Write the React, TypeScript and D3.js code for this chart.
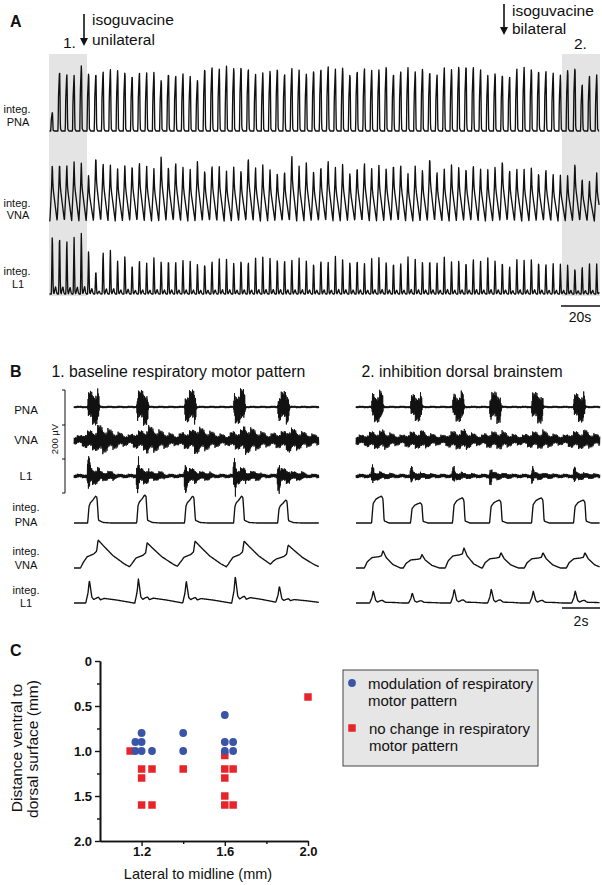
import { useEffect, useRef } from "react";
import * as d3 from "d3";

const W = 602;
const H = 885;
const FONT = "'Liberation Sans', Arial, Helvetica, sans-serif";
const INK = "#111";
const SHADE = "#e4e4e4";

// ---------- Panel A: peak height of every respiratory burst (a.u.) ----------
const A_PNA = [
  19, 61, 58, 56, 66, 59, 59, 61, 62, 61, 60, 57, 60, 59, 59, 52, 59, 57, 58, 55,
  52, 64, 66, 63, 65, 64, 66, 64, 58, 58, 61, 64, 59, 64,
  61, 58, 62, 64, 66, 62, 64, 58, 62, 64, 61, 62, 66, 59, 61, 64, 60, 64, 61, 58,
  64, 62, 66, 67, 66, 62, 56, 59, 58, 56, 63, 64, 63, 62, 62, 59, 56, 62, 65, 48,
  56, 56,
];
const A_VNA = [
  58, 60, 58, 60, 59, 48, 67, 60, 57, 53, 58, 58, 61, 56, 53, 67, 57, 61, 55, 52,
  62, 53, 58, 56, 50, 56, 53, 66, 55, 56, 53, 50, 52, 67,
  55, 60, 52, 57, 62, 54, 58, 50, 56, 60, 53, 57, 55, 59,
  58, 48, 56, 53, 66, 51, 53, 57, 56, 55, 58, 53, 52, 56, 63, 53, 53, 52, 55, 50,
  54, 48, 46, 47, 60, 44, 41, 48,
];
const A_L1 = [
  63, 63, 57, 58, 63, 47, 25, 45, 45, 34, 41, 32, 36, 32, 37, 35, 37, 35, 35, 33,
  32, 33, 36, 37, 35, 33, 37, 35, 38, 37, 38, 38, 37, 36,
  36, 35, 33, 37, 34, 38, 36, 35, 37, 33, 36, 38, 35, 34, 33, 38, 36, 35, 37, 34,
  38, 33, 36, 35, 38, 34, 37, 36, 35, 30, 36, 34, 37, 35, 33, 32, 30, 31, 28, 30,
  32, 30,
];

// burst templates for panel A (offset in px from burst peak, fraction of peak)
const A_PNA_SHAPE = [[-1.5, 0], [-1.1, 0.55], [0, 1], [0.25, 0.9], [0.8, 0.04], [2, 0]];
const A_VNA_SHAPE = [[-2.4, 0], [-1.4, 0.35], [-0.7, 0.6], [0, 1], [0.6, 0.62], [1.2, 0.5], [4.85, 0]];
const A_L1_SHAPE = [[-0.9, 0], [0, 1], [0.9, 0.05], [1.6, 0], [2.4, 0.06], [3.3, 0.12], [4.2, 0.03], [5, 0]];

// ---------- Panel B ----------
const B1_ONSET = [0.74, 3.32, 5.84, 8.42, 10.74]; // s
const B2_ONSET = [0.84, 2.89, 5.1, 7.05, 9.26, 11.47];
// raw nerve half amplitude (µV)
const B1_PNA_UV = [90, 90, 85, 90, 80];
const B2_PNA_UV = [80, 70, 75, 80, 80, 75];
const B1_VNA_UV = [80, 76, 74, 76, 66];
const B2_VNA_UV = [55, 52, 58, 52, 52, 55];
const B1_L1_UV = [95, 85, 80, 90, 80];
const B2_L1_UV = [48, 42, 40, 40, 38, 38];
// integrated peaks (a.u.)
const B1_IPNA = [96, 100, 96, 96, 82];
const B2_IPNA = [96, 72, 90, 82, 90, 82];
const B1_IVNA = [100, 90, 96, 96, 82];
const B2_IVNA = [62, 48, 72, 55, 55, 55];
const B1_IL1 = [82, 86, 79, 96, 61];
const B2_IL1 = [43, 36, 50, 50, 43, 43];

// templates (s from onset, fraction)
const B1_PNA_SHAPE = [[-0.02, 0], [0.05, 0.62], [0.12, 0.75], [0.25, 0.85], [0.4, 1], [0.47, 0.95], [0.55, 0.1], [0.8, 0.02], [1.2, 0]];
const B2_PNA_SHAPE = [[-0.02, 0], [0.06, 0.72], [0.2, 0.88], [0.35, 0.95], [0.5, 1], [0.58, 0.9], [0.64, 0.08], [0.9, 0]];
const B1_VNA_SHAPE = [[-0.4, 0], [-0.25, 0.2], [-0.05, 0.4], [0.3, 0.5], [0.45, 0.6], [0.53, 1], [0.8, 0.8], [1.3, 0.45], [1.9, 0.15], [2.3, 0]];
const B2_VNA_SHAPE = [[-0.4, 0], [-0.25, 0.35], [0, 0.6], [0.35, 0.65], [0.5, 0.7], [0.58, 1], [0.75, 0.6], [1.1, 0.2], [1.5, 0]];
const B1_L1_SHAPE = [[-0.12, 0], [0, 0.45], [0.07, 1], [0.2, 0.25], [0.3, 0.15], [0.45, 0.22], [0.55, 0.25], [0.65, 0.14], [0.85, 0.2], [1.5, 0.13], [2.2, 0.03], [2.4, 0]];
const B2_L1_SHAPE = [[-0.12, 0], [0, 0.45], [0.07, 1], [0.2, 0.2], [0.3, 0.08], [0.45, 0.2], [0.55, 0.22], [0.7, 0.06], [1.2, 0.04], [1.6, 0]];
const PNA_RAW_SHAPE = [[-0.03, 0], [0.02, 0.8], [0.25, 0.9], [0.45, 1], [0.55, 0.9], [0.6, 0.1], [0.65, 0]];
const B1_L1_RAW_SHAPE = [[-0.06, 0], [0, 1], [0.08, 1], [0.14, 0.35], [0.6, 0.35], [0.65, 0.15], [1.3, 0.15], [1.5, 0]];
const B2_L1_RAW_SHAPE = [[-0.05, 0], [0, 1], [0.07, 1], [0.12, 0.25], [0.5, 0.25], [0.55, 0.1], [1, 0.1], [1.2, 0]];

// texture for raw recordings
const GRAIN = [1, 0.55, 0.9, 0.45, 1.15, 0.7, 0.85, 0.5, 1.05, 0.65, 0.8, 1.2, 0.5, 0.9, 0.7, 1.1, 0.6];

// ---------- Panel C ----------
const MOD_X = [1.2, 1.17, 1.2, 1.17, 1.2, 1.25, 1.4, 1.4, 1.6, 1.6, 1.64, 1.6, 1.64];
const MOD_Y = [0.8, 0.9, 0.9, 1.0, 1.0, 1.0, 0.8, 1.0, 0.6, 0.9, 0.9, 1.0, 1.0];
const NOCH_X = [1.145, 1.2, 1.25, 1.2, 1.2, 1.25, 1.4, 1.6, 1.6, 1.64, 1.6, 1.6, 1.6, 1.64, 2.0];
const NOCH_Y = [1.0, 1.2, 1.2, 1.3, 1.6, 1.6, 1.2, 1.05, 1.2, 1.2, 1.3, 1.5, 1.6, 1.6, 0.4];
const C_YTICKS = [0, 0.5, 1.0, 1.5, 2.0];
const C_YMINOR = [0.25, 0.75, 1.25, 1.75];
const C_XTICKS = [1.2, 1.6, 2.0];
const C_XMINOR = [1.4, 1.8];

const BLUE = "#3a55a8";
const RED = "#e8242b";

const shapeFn = (pts: number[][]) =>
  d3.scaleLinear().domain(pts.map((p) => p[0])).range(pts.map((p) => p[1])).clamp(true);

type Sel = d3.Selection<SVGSVGElement, unknown, null, undefined>;

function text(g: any, x: number, y: number, s: string, size: number, opts: any = {}) {
  return g.append("text")
    .attr("x", x).attr("y", y)
    .attr("font-family", FONT)
    .attr("font-size", size)
    .attr("font-weight", opts.bold ? 700 : 400)
    .attr("text-anchor", opts.anchor || "start")
    .attr("fill", opts.fill || INK)
    .text(s);
}

function arrow(g: any, x: number, y0: number, y1: number) {
  g.append("line").attr("x1", x).attr("x2", x).attr("y1", y0).attr("y2", y1 - 6)
    .attr("stroke", INK).attr("stroke-width", 1.6);
  g.append("path").attr("d", `M${x - 4},${y1 - 8}L${x + 4},${y1 - 8}L${x},${y1}Z`).attr("fill", INK);
}

function drawA(svg: Sel) {
  const g = svg.append("g").attr("class", "panel-a");
  g.append("rect").attr("x", 49).attr("y", 54).attr("width", 38).attr("height", 242).attr("fill", SHADE);
  g.append("rect").attr("x", 562).attr("y", 54).attr("width", 38).attr("height", 242).attr("fill", SHADE);

  const xA = d3.scaleLinear().domain([0, A_PNA.length - 1]).range([52.3, 596.7]);
  const rows = [
    { amps: A_PNA, shape: shapeFn(A_PNA_SHAPE), y: d3.scaleLinear().domain([0, 70]).range([131, 61]) },
    { amps: A_VNA, shape: shapeFn(A_VNA_SHAPE), y: d3.scaleLinear().domain([0, 70]).range([221, 151]) },
    { amps: A_L1, shape: shapeFn(A_L1_SHAPE), y: d3.scaleLinear().domain([0, 70]).range([294, 224]) },
  ];
  const xs = d3.range(49.5, 599.2, 0.3);
  rows.forEach((r) => {
    const pts: [number, number][] = xs.map((x) => {
      let v = 0;
      r.amps.forEach((a, i) => {
        const dx = x - xA(i);
        if (dx > -6 && dx < 6) v += a * r.shape(dx);
      });
      return [x, r.y(v)];
    });
    g.append("path").attr("d", d3.line()(pts)).attr("fill", "none")
      .attr("stroke", INK).attr("stroke-width", 1.35).attr("stroke-linejoin", "round");
  });

  text(g, 10, 27, "A", 16, { bold: true });
  arrow(g, 84, 14, 46);
  text(g, 92, 25, "isoguvacine", 15.5);
  text(g, 92, 45, "unilateral", 15.5);
  text(g, 63, 48, "1.", 15.5);
  arrow(g, 504, 4, 35);
  text(g, 512, 16, "isoguvacine", 15.5);
  text(g, 512, 34, "bilateral", 15.5);
  text(g, 574, 49, "2.", 15.5);

  [["integ.", "PNA", 113, 126], ["integ.", "VNA", 207, 219], ["integ.", "L1", 275, 288]].forEach(([a, b, y1, y2]) => {
    text(g, 17, y1 as number, a as string, 11, { anchor: "middle" });
    text(g, 18, y2 as number, b as string, 11, { anchor: "middle" });
  });

  g.append("line").attr("x1", 561).attr("x2", 600).attr("y1", 306).attr("y2", 306)
    .attr("stroke", INK).attr("stroke-width", 1.6);
  text(g, 580, 322, "20s", 14, { anchor: "middle" });
}

const PX_PER_S = 19;
const UV_PX = 34 / 200;
const ROW_Y = { pna: 407, vna: 440, l1: 476, ipna: 523, ivna: 568, il1: 603 };
const INTEG_PX = 28 / 100;

function drawWindow(g: any, x0: number, dur: number, cfg: any) {
  const x = d3.scaleLinear().domain([0, dur]).range([x0, x0 + dur * PX_PER_S]);
  const sum = (t: number, amps: number[], f: (v: number) => number, base = 0) =>
    d3.sum(cfg.onsets as number[], (o: number, i: number) => (amps[i] - base) * f(t - o));

  const tsRaw = d3.range(0, dur, 0.3 / PX_PER_S);
  const ts = d3.range(0, dur, 0.4 / PX_PER_S);

  const raw = (env: (t: number) => number, yc: number) => {
    const pts: [number, number][] = tsRaw.map((t, k) => {
      const s = k % 2 === 0 ? 1 : -1;
      return [x(t), yc + s * env(t) * UV_PX * GRAIN[k % GRAIN.length]];
    });
    g.append("path").attr("d", d3.line()(pts)).attr("fill", "none")
      .attr("stroke", INK).attr("stroke-width", 0.9);
  };
  const integ = (val: (t: number) => number, yb: number) => {
    const pts: [number, number][] = ts.map((t) => [x(t), yb - val(t) * INTEG_PX]);
    g.append("path").attr("d", d3.line()(pts)).attr("fill", "none")
      .attr("stroke", INK).attr("stroke-width", 1.35).attr("stroke-linejoin", "round");
  };

  const pnaRaw = shapeFn(PNA_RAW_SHAPE);
  const vnaS = shapeFn(cfg.vnaShape);
  const l1Raw = shapeFn(cfg.l1RawShape);
  raw((t) => 6 + sum(t, cfg.pnaUV, pnaRaw), ROW_Y.pna);
  raw((t) => cfg.vnaBase + sum(t, cfg.vnaUV, vnaS, cfg.vnaBase), ROW_Y.vna);
  raw((t) => 11 + sum(t, cfg.l1UV, l1Raw), ROW_Y.l1);

  const pnaS = shapeFn(cfg.pnaShape);
  const l1S = shapeFn(cfg.l1Shape);
  integ((t) => sum(t, cfg.ipna, pnaS), ROW_Y.ipna);
  integ((t) => sum(t, cfg.ivna, vnaS), ROW_Y.ivna);
  integ((t) => sum(t, cfg.il1, l1S), ROW_Y.il1);
}

function drawB(svg: Sel) {
  const g = svg.append("g").attr("class", "panel-b");
  text(g, 10, 377, "B", 16, { bold: true });
  text(g, 51.5, 377, "1. baseline respiratory motor pattern", 15.8);
  text(g, 361.5, 377, "2. inhibition dorsal brainstem", 15.8);

  [["PNA", 414], ["VNA", 444], ["L1", 480]].forEach(([s, y]) =>
    text(g, 26, y as number, s as string, 11.5, { anchor: "middle" }));
  [["integ.", "PNA", 511, 526], ["integ.", "VNA", 555, 569], ["integ.", "L1", 594, 607]].forEach(([a, b, y1, y2]) => {
    text(g, 26, y1 as number, a as string, 11, { anchor: "middle" });
    text(g, 26, y2 as number, b as string, 11, { anchor: "middle" });
  });

  // 200 µV calibration bracket
  const ticks = [390, 425, 459, 493];
  g.append("line").attr("x1", 65).attr("x2", 65).attr("y1", ticks[0]).attr("y2", ticks[3])
    .attr("stroke", INK).attr("stroke-width", 1);
  ticks.forEach((y) => g.append("line").attr("x1", 62).attr("x2", 65).attr("y1", y).attr("y2", y)
    .attr("stroke", INK).attr("stroke-width", 1));
  g.append("text").attr("transform", "translate(58,439) rotate(-90)")
    .attr("font-family", FONT).attr("font-size", 9.5).attr("text-anchor", "middle")
    .attr("fill", INK).text("200 µV");

  drawWindow(g, 74, 12.9, {
    onsets: B1_ONSET, pnaUV: B1_PNA_UV, vnaUV: B1_VNA_UV, l1UV: B1_L1_UV, vnaBase: 23,
    ipna: B1_IPNA, ivna: B1_IVNA, il1: B1_IL1,
    pnaShape: B1_PNA_SHAPE, vnaShape: B1_VNA_SHAPE, l1Shape: B1_L1_SHAPE, l1RawShape: B1_L1_RAW_SHAPE,
  });
  drawWindow(g, 356, 12.84, {
    onsets: B2_ONSET, pnaUV: B2_PNA_UV, vnaUV: B2_VNA_UV, l1UV: B2_L1_UV, vnaBase: 26,
    ipna: B2_IPNA, ivna: B2_IVNA, il1: B2_IL1,
    pnaShape: B2_PNA_SHAPE, vnaShape: B2_VNA_SHAPE, l1Shape: B2_L1_SHAPE, l1RawShape: B2_L1_RAW_SHAPE,
  });

  g.append("line").attr("x1", 562).attr("x2", 600).attr("y1", 608).attr("y2", 608)
    .attr("stroke", INK).attr("stroke-width", 1.6);
  text(g, 581, 626, "2s", 14, { anchor: "middle" });
}

function drawC(svg: Sel) {
  const g = svg.append("g").attr("class", "panel-c");
  text(g, 10, 656, "C", 16, { bold: true });

  const xC = d3.scaleLinear().domain([1.0, 2.0]).range([100, 308]);
  const yC = d3.scaleLinear().domain([0, 2]).range([661, 841]);

  const styleAxis = (ax: any) => {
    ax.select(".domain").attr("stroke", INK).attr("stroke-width", 1.6);
    ax.selectAll(".tick line").attr("stroke", INK).attr("stroke-width", 1.4);
    ax.selectAll("text").attr("font-family", FONT).attr("font-size", 13)
      .attr("font-weight", 700).attr("fill", INK);
  };

  g.append("g").attr("transform", "translate(100,0)")
    .call(d3.axisLeft(yC).tickValues(C_YMINOR).tickSize(3).tickSizeOuter(0).tickFormat(() => ""))
    .call(styleAxis);
  g.append("g").attr("transform", "translate(100,0)")
    .call(d3.axisLeft(yC).tickValues(C_YTICKS).tickSize(5).tickSizeOuter(0).tickPadding(3)
      .tickFormat((d: any) => (d === 0 ? "0" : d3.format(".1f")(d))))
    .call(styleAxis);
  g.append("g").attr("transform", "translate(0,841)")
    .call(d3.axisBottom(xC).tickValues(C_XMINOR).tickSize(3).tickSizeOuter(0).tickFormat(() => ""))
    .call(styleAxis);
  g.append("g").attr("transform", "translate(0,841)")
    .call(d3.axisBottom(xC).tickValues(C_XTICKS).tickSize(5).tickSizeOuter(0).tickPadding(1)
      .tickFormat(d3.format(".1f") as any))
    .call(styleAxis);

  const sq = 7.5;
  g.selectAll("rect.noch").data(NOCH_X).join("rect").attr("class", "noch")
    .attr("x", (d: number) => xC(d) - sq / 2)
    .attr("y", (_: number, i: number) => yC(NOCH_Y[i]) - sq / 2)
    .attr("width", sq).attr("height", sq).attr("fill", RED);
  g.selectAll("circle.mod").data(MOD_X).join("circle").attr("class", "mod")
    .attr("cx", (d: number) => xC(d))
    .attr("cy", (_: number, i: number) => yC(MOD_Y[i]))
    .attr("r", 3.9).attr("fill", BLUE);

  g.append("text").attr("transform", "translate(22,748) rotate(-90)")
    .attr("font-family", FONT).attr("font-size", 15.5).attr("text-anchor", "middle")
    .attr("fill", INK).text("Distance ventral to");
  g.append("text").attr("transform", "translate(38,749) rotate(-90)")
    .attr("font-family", FONT).attr("font-size", 15.5).attr("text-anchor", "middle")
    .attr("fill", INK).text("dorsal surface (mm)");
  text(g, 198, 879, "Lateral to midline (mm)", 14.5, { anchor: "middle" });

  // legend
  const lg = g.append("g").attr("class", "legend");
  lg.append("rect").attr("x", 343).attr("y", 670).attr("width", 195).attr("height", 96)
    .attr("fill", "#e6e6e6").attr("stroke", "#444").attr("stroke-width", 1);
  lg.append("circle").attr("cx", 352).attr("cy", 683).attr("r", 3.9).attr("fill", BLUE);
  text(lg, 368, 689, "modulation of respiratory", 15);
  text(lg, 368, 706, "motor pattern", 15);
  lg.append("rect").attr("x", 352 - sq / 2).attr("y", 728 - sq / 2).attr("width", sq).attr("height", sq).attr("fill", RED);
  text(lg, 369, 734, "no change in respiratory", 15);
  text(lg, 369, 751, "motor pattern", 15);
}

export default function App() {
  const svgRef = useRef<SVGSVGElement>(null);

  useEffect(() => {
    if (!svgRef.current) return;
    const svg = d3.select(svgRef.current);
    svg.selectAll("*").remove();
    drawA(svg);
    drawB(svg);
    drawC(svg);
  }, []);

  return (
    <svg
      ref={svgRef}
      width={W}
      height={H}
      style={{ position: "absolute", left: 0, top: 0, background: "#fff" }}
    />
  );
}
